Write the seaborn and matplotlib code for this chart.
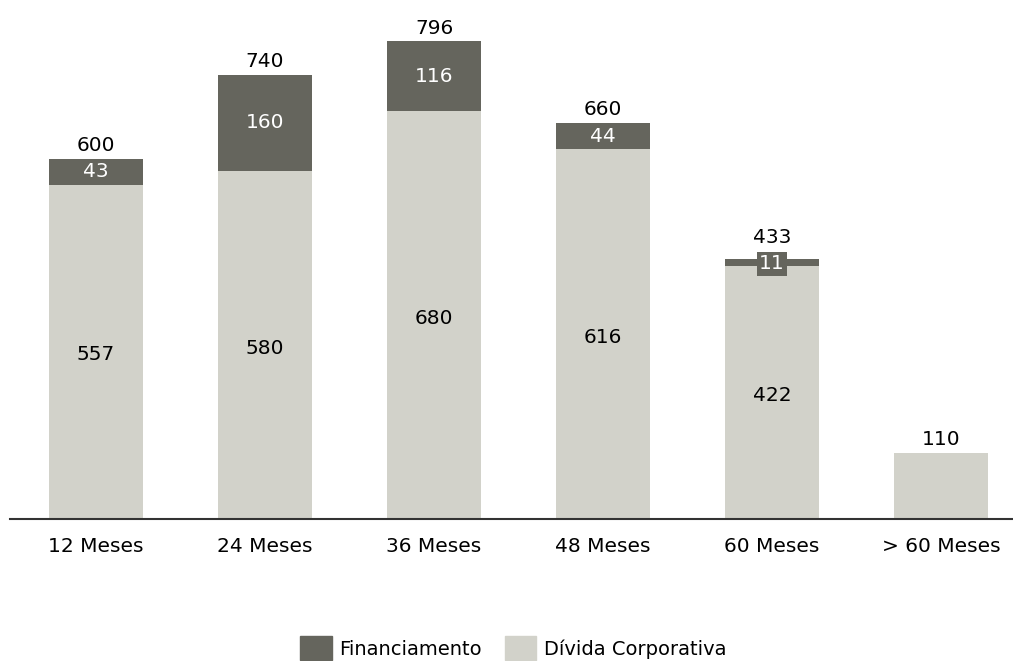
import matplotlib
matplotlib.use("Agg")
import matplotlib.pyplot as plt
import seaborn as sns
import pandas as pd
from matplotlib.patches import Patch

categories = ["12 Meses", "24 Meses", "36 Meses", "48 Meses", "60 Meses", "> 60 Meses"]
divida_corporativa = [557, 580, 680, 616, 422, 110]
financiamento = [43, 160, 116, 44, 11, 0]
totals = [600, 740, 796, 660, 433, 110]

DARK = "#65655d"
LIGHT = "#d2d2ca"

sns.set_theme(style="white")
plt.rcParams["font.family"] = ["DejaVu Sans"]

df = pd.DataFrame({"cat": categories, "corp": divida_corporativa, "fin": financiamento})

fig = plt.figure(figsize=(10.13, 6.61), dpi=100)
ax = fig.add_axes([10 / 1013, 142 / 661, 1003 / 1013, 519 / 661])

sns.barplot(data=df, x="cat", y="corp", color=LIGHT, width=0.56, ax=ax,
            saturation=1, linewidth=0)
sns.barplot(data=df, x="cat", y="fin", color=DARK, width=0.56, ax=ax,
            saturation=1, linewidth=0, bottom=df["corp"])

ax.set_xlim(-0.509, 5.426)
ax.set_ylim(0, 865)
for s in ["top", "right", "left"]:
    ax.spines[s].set_visible(False)
ax.spines["bottom"].set_color("#333333")
ax.spines["bottom"].set_linewidth(1.5)
ax.set_yticks([])
ax.set_xlabel("")
ax.set_ylabel("")
ax.tick_params(axis="x", length=0, pad=13, labelsize=14.5, colors="black")

fs = 14.5
for i, (c, f, t) in enumerate(zip(divida_corporativa, financiamento, totals)):
    # small top segments get a boxed label, so lift the total clear of it
    lift = 20 if 0 < f < 20 else 6
    ax.text(i, t + lift, f"{t}", ha="center", va="bottom", fontsize=fs, color="black")
    if i < 5:
        ax.text(i, c / 2 - 5, f"{c}", ha="center", va="center", fontsize=fs, color="black")
    if f > 0:
        if f < 20:
            ax.text(i, c + f / 2 - 2, f"{f}", ha="center", va="center", fontsize=fs,
                    color="white",
                    bbox=dict(boxstyle="square,pad=0.12", fc=DARK, ec="none"))
        else:
            ax.text(i, c + f / 2, f"{f}", ha="center", va="center", fontsize=fs,
                    color="white")

handles = [Patch(color=DARK, label="Financiamento"),
           Patch(color=LIGHT, label="Dívida Corporativa")]
fig.legend(handles=handles, loc="lower center", bbox_to_anchor=(0.507, -0.025),
           ncol=2, frameon=False, handlelength=1.6, handleheight=1.5,
           columnspacing=1.2, handletextpad=0.4, labelcolor="black",
           prop={"family": ["Liberation Sans Narrow", "DejaVu Sans"], "size": 14})

fig.savefig("out.png", dpi=100)
